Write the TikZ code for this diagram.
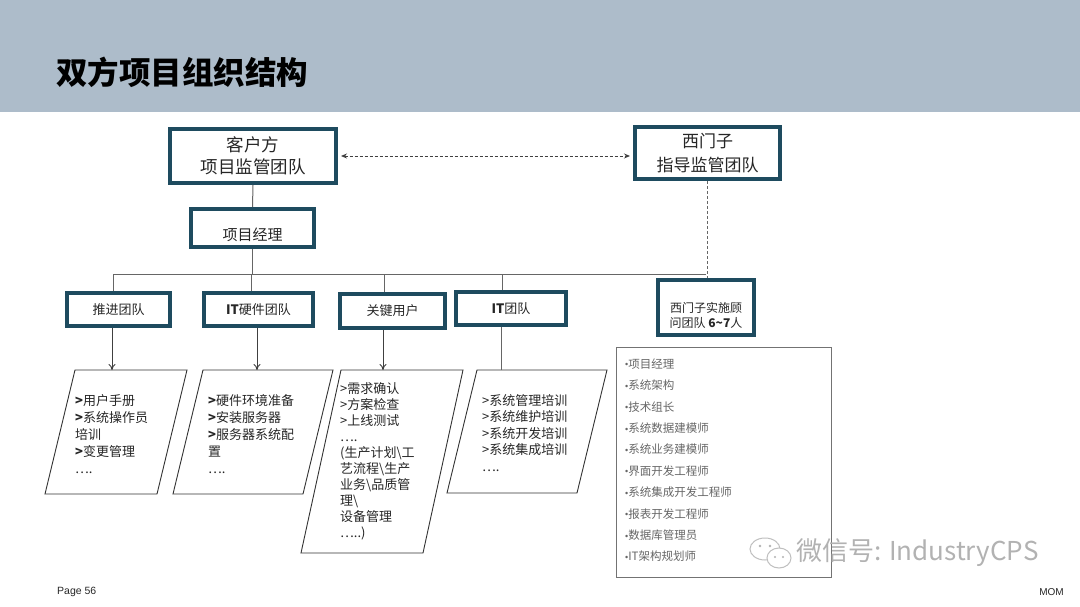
\documentclass[tikz,border=0pt]{standalone}
\usepackage{fontspec}
\setmainfont{Noto Sans CJK SC}
\newfontfamily\latfont{Liberation Sans}
\usetikzlibrary{arrows.meta}
\definecolor{hdr}{HTML}{ADBCCA}
\definecolor{boxc}{HTML}{1E4B5F}
\definecolor{txt}{HTML}{262626}
\newcommand{\blt}{{\latfont\fontsize{9}{13}\selectfont\raisebox{0.5pt}{•}}}
\begin{document}
\begin{tikzpicture}[x=1pt,y=-1pt,
  tbox/.style={draw=boxc, line width=4pt, fill=white, inner sep=0pt, align=center, text=txt},
  bus/.style={draw=black!60, line width=1pt},
  para/.style={draw=black!80, line width=0.9pt},
  ptext/.style={anchor=north west, inner sep=0pt, align=left, text=txt, font=\fontsize{13}{17}\selectfont},
  litem/.style={anchor=west, inner sep=0pt, text=black!60, font=\fontsize{11.5}{13}\selectfont},
  arr/.style={bus, draw=black!75, -{To[length=6pt,width=7pt]}}
]
\useasboundingbox (0,0) rectangle (1080,607);
\fill[white] (0,0) rectangle (1080,607);
% header
\fill[hdr] (0,0) rectangle (1080,112);
\node[anchor=west, inner sep=0pt, font=\fontsize{31.5}{34}\selectfont\bfseries, text=black] (title) at (56,72) {双方项目组织结构};

% top boxes
\node[tbox, minimum width=166pt, minimum height=54pt, font=\fontsize{17.5}{22}\selectfont] (khf) at (253,156) {客户方\\项目监管团队};
\node[tbox, minimum width=145pt, minimum height=52pt, font=\fontsize{17}{24}\selectfont] (xmz) at (707.5,153) {西门子\\指导监管团队};
\node[tbox, minimum width=123pt, minimum height=38pt] (xmjl) at (252.5,228) {};
\node[inner sep=0pt, font=\fontsize{15}{18}\selectfont, text=txt] (xmjlt) at ([yshift=-7pt]xmjl.center) {项目经理};

% team boxes
\node[tbox, minimum width=103pt, minimum height=33pt, font=\fontsize{13}{16}\selectfont] (tj) at (118.5,309.5) {推进团队};
\node[tbox, minimum width=109pt, minimum height=33pt, font=\fontsize{13}{16}\selectfont] (ityj) at (258.5,309.5) {\textbf{IT}硬件团队};
\node[tbox, minimum width=105pt, minimum height=34pt, font=\fontsize{13}{16}\selectfont] (gjyh) at (392.5,311) {关键用户};
\node[tbox, minimum width=110pt, minimum height=33pt, font=\fontsize{13}{16}\selectfont] (itt) at (511,308.5) {\textbf{IT}团队};
\node[tbox, minimum width=96pt, minimum height=55pt] (ssgw) at (706,307.5) {};
\node[inner sep=0pt, align=center, font=\fontsize{12}{15}\selectfont, text=txt] (ssgwt) at ([yshift=-8pt]ssgw.center) {西门子实施顾\\问团队 \textbf{6\textasciitilde7}人};

% connectors
\draw[bus] (khf.south) -- (xmjl.north);
\coordinate (b1) at (113,274);
\coordinate (b2) at (251,274);
\coordinate (b3) at (384,274);
\coordinate (b4) at (502,274);
\coordinate (b5) at (706,274);
\draw[bus] (xmjl.south) -- (xmjl.south |- b1);
\draw[bus] (b1) -- (b5);
\draw[bus] (b1) -- (b1 |- tj.north);
\draw[bus] (b2) -- (b2 |- ityj.north);
\draw[bus] (b3) -- (b3 |- gjyh.north);
\draw[bus] (b4) -- (b4 |- itt.north);
\draw[bus, dash pattern=on 3pt off 2pt] (xmz.south) -- (xmz.south |- ssgw.north);
\draw[black!75, line width=0.9pt, dash pattern=on 3pt off 2pt,
      {Stealth[length=6pt,width=5pt]}-{Stealth[length=6pt,width=5pt]},
      shorten <=3pt, shorten >=3pt] (khf.east) -- (khf.east -| xmz.west);

% parallelograms
\coordinate (p1t) at (112,370);
\coordinate (p2t) at (257,370);
\coordinate (p3t) at (383,370);
\coordinate (p4t) at (501,370);
\draw[para] (75,370) -- (187,370) -- (157,494) -- (45,494) -- cycle;
\draw[para] (203,370) -- (333,370) -- (303,494) -- (173,494) -- cycle;
\draw[para] (341,370) -- (463,370) -- (423,553) -- (301,553) -- cycle;
\draw[para] (477,370) -- (607,370) -- (577,493) -- (447,493) -- cycle;
\draw[arr] (tj.south -| p1t) -- (p1t);
\draw[arr] (ityj.south -| p2t) -- (p2t);
\draw[arr] (gjyh.south -| p3t) -- (p3t);
\draw[bus] (itt.south -| p4t) -- (p4t);

\node[ptext] (t1) at (75,394) {\textbf{>}用户手册\\\textbf{>}系统操作员\\培训\\\textbf{>}变更管理\\….};
\node[ptext] (t2) at (208,394) {\textbf{>}硬件环境准备\\\textbf{>}安装服务器\\\textbf{>}服务器系统配\\置\\….};
\node[ptext, font=\fontsize{13}{16}\selectfont] (t3) at (340,382) {>需求确认\\>方案检查\\>上线测试\\….\\(生产计划\textbackslash 工\\艺流程\textbackslash 生产\\业务\textbackslash 品质管\\理\textbackslash\\设备管理\\…..)};
\node[ptext, font=\fontsize{13}{16.5}\selectfont] (t4) at (482,394) {>系统管理培训\\>系统维护培训\\>系统开发培训\\>系统集成培训\\….};

% right list
\draw[black!55, line width=0.9pt] (616,347) rectangle (831,577);
\node[litem] (l1) at (625,364) {\blt 项目经理};
\node[litem] (l2) at (625,385.4) {\blt 系统架构};
\node[litem] (l3) at (625,406.8) {\blt 技术组长};
\node[litem] (l4) at (625,428.2) {\blt 系统数据建模师};
\node[litem] (l5) at (625,449.6) {\blt 系统业务建模师};
\node[litem] (l6) at (625,471) {\blt 界面开发工程师};
\node[litem] (l7) at (625,492.4) {\blt 系统集成开发工程师};
\node[litem] (l8) at (625,513.8) {\blt 报表开发工程师};
\node[litem] (l9) at (625,535.2) {\blt 数据库管理员};
\node[litem] (l10) at (625,556.6) {\blt IT架构规划师};

% watermark
\draw[black!25, line width=1pt, fill=white] (765,549) ellipse [x radius=15pt, y radius=11pt];
\draw[black!25, line width=1pt, fill=white] (779,558) ellipse [x radius=12pt, y radius=10pt];
\fill[black!30] (760,546) circle (1.3pt) (770,546) circle (1.3pt) (775,557) circle (1.1pt) (783,557) circle (1.1pt);
\node[anchor=west, inner sep=0pt, text=black!30, font=\fontsize{26}{28}\selectfont] (wm) at (796,553) {微信号: IndustryCPS};

% footer
\node[anchor=west, inner sep=0pt, font=\latfont\fontsize{10.5}{12}\selectfont, text=black!85] (pg) at (57,592) {Page 56};
\node[anchor=east, inner sep=0pt, font=\latfont\fontsize{10}{12}\selectfont, text=black!85] (mom) at (1064,592) {MOM};
\end{tikzpicture}
\end{document}
